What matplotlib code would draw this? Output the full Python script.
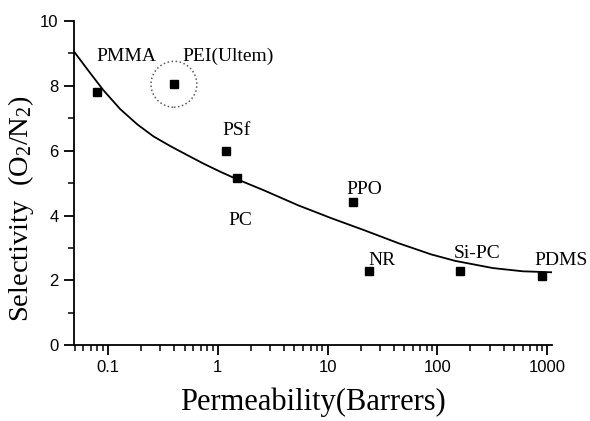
import matplotlib
matplotlib.use("Agg")
import matplotlib.pyplot as plt
from matplotlib.ticker import LogLocator, FixedLocator, FixedFormatter, MultipleLocator, NullFormatter

# polymer data points (permeability in Barrers, O2/N2 selectivity)
polymers = ["PMMA", "PEI(Ultem)", "PSf", "PC", "PPO", "NR", "Si-PC", "PDMS"]
perm = [0.08, 0.4, 1.2, 1.5, 17, 24, 160, 900]
selec = [7.8, 8.05, 6.0, 5.15, 4.43, 2.3, 2.3, 2.12]

# label anchor positions (left, baseline) in data coords
lab_x = [0.078, 0.48, 1.11, 1.26, 15, 23.7, 141, 760]
lab_y = [8.77, 8.77, 6.5, 3.7, 4.66, 2.47, 2.69, 2.47]

# trend line
curve_x = [0.047, 0.0505, 0.069, 0.091, 0.13, 0.186, 0.261, 0.372, 0.532, 0.745,
           1.06, 1.5, 2.63, 5.37, 10.8, 21.5, 44, 88, 146, 320, 600, 1100]
curve_y = [9.15, 9.01, 8.40, 7.87, 7.28, 6.81, 6.44, 6.14, 5.86, 5.60,
           5.35, 5.12, 4.78, 4.32, 3.92, 3.55, 3.15, 2.80, 2.60, 2.38, 2.28, 2.25]

xticks = [0.1, 1, 10, 100, 1000]
xticklabels = ["0.1", "1", "10", "100", "1000"]
yticks = [0, 2, 4, 6, 8, 10]

serif = "Liberation Serif"
sans = "Liberation Sans"
plt.rcParams["mathtext.fontset"] = "custom"
plt.rcParams["mathtext.rm"] = serif

fig = plt.figure(figsize=(5.9, 4.21), dpi=100)
ax = fig.add_axes([0.125, 0.180, 0.811, 0.770])

ax.plot(curve_x, curve_y, color="black", lw=1.3)
ax.plot(perm, selec, "s", color="black", ms=5.8, mec="black")

# dotted circle around PEI
ax.scatter([perm[1]], [selec[1]], s=33 ** 2, facecolors="none", edgecolors="0.35",
           linestyles=":", linewidths=1.1, zorder=3)

for name, lx, ly in zip(polymers, lab_x, lab_y):
    ax.text(lx, ly, name, fontsize=14, family=serif, ha="left", va="baseline",
            clip_on=False)

ax.set_xscale("log")
ax.set_xlim(0.049, 1110)
ax.set_ylim(0, 10)

ax.xaxis.set_major_locator(FixedLocator(xticks))
ax.xaxis.set_major_formatter(FixedFormatter(xticklabels))
ax.xaxis.set_minor_locator(LogLocator(base=10, subs=range(2, 10)))
ax.xaxis.set_minor_formatter(NullFormatter())
ax.yaxis.set_major_locator(FixedLocator(yticks))
ax.yaxis.set_minor_locator(MultipleLocator(1))

for s in ["top", "right"]:
    ax.spines[s].set_visible(False)
for s in ["left", "bottom"]:
    ax.spines[s].set_linewidth(1.3)

ax.tick_params(which="major", direction="out", length=7, width=1.3,
               labelsize=12, pad=4)
ax.tick_params(which="minor", direction="out", length=4, width=1.1)
for lbl in ax.get_xticklabels() + ax.get_yticklabels():
    lbl.set_family(sans)

ax.set_xlabel("Permeability(Barrers)", fontsize=22, family=serif, labelpad=9)
ax.set_ylabel(r"Selectivity  (O$\mathrm{_2}$/N$\mathrm{_2}$)", fontsize=20.5, family=serif)
ax.yaxis.set_label_coords(-0.078, 0.42)

fig.savefig("out.png", dpi=100)
